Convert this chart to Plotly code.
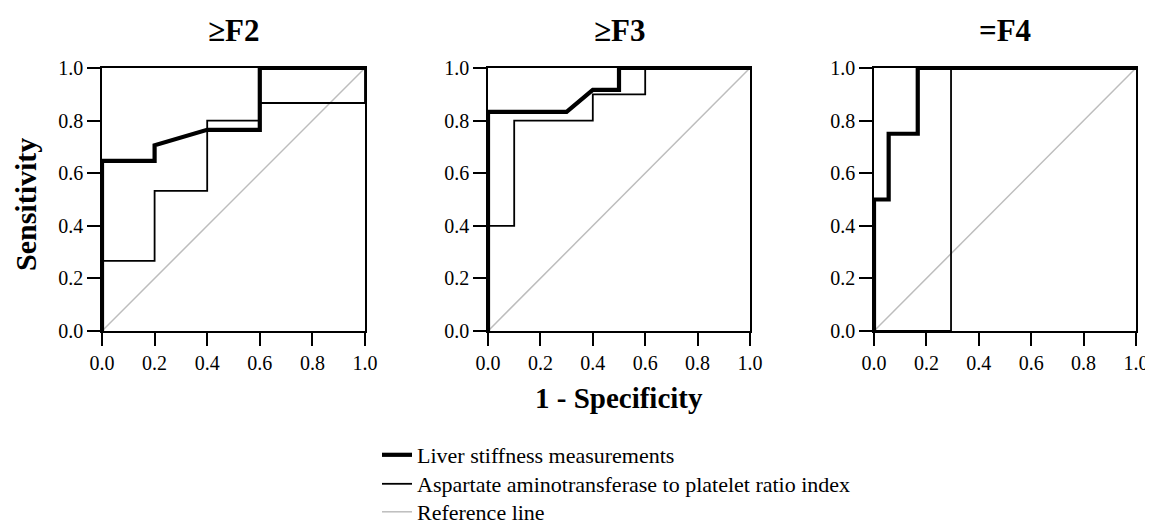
import plotly.graph_objects as go

panel_titles = ["<b>≥F2</b>", "<b>≥F3</b>", "<b>=F4</b>"]
series_names = ["Liver stiffness measurements",
                "Aspartate aminotransferase to platelet ratio index",
                "Reference line"]
tick_vals = [0, 0.2, 0.4, 0.6, 0.8, 1.0]
tick_text = ["0.0", "0.2", "0.4", "0.6", "0.8", "1.0"]

lsm_x_f2 = [0, 0, 0.2, 0.2, 0.4, 0.6, 0.6, 1]
lsm_y_f2 = [0, 0.647, 0.647, 0.706, 0.765, 0.765, 1, 1]
apri_x_f2 = [0, 0, 0.2, 0.2, 0.4, 0.4, 0.6, 0.6, 1, 1]
apri_y_f2 = [0, 0.267, 0.267, 0.533, 0.533, 0.8, 0.8, 0.867, 0.867, 1]

lsm_x_f3 = [0, 0, 0.3, 0.4, 0.5, 0.5, 1]
lsm_y_f3 = [0, 0.833, 0.833, 0.917, 0.917, 1, 1]
apri_x_f3 = [0, 0, 0.1, 0.1, 0.4, 0.4, 0.6, 0.6, 1]
apri_y_f3 = [0, 0.4, 0.4, 0.8, 0.8, 0.9, 0.9, 1, 1]

lsm_x_f4 = [0, 0, 0.056, 0.056, 0.167, 0.167, 1]
lsm_y_f4 = [0, 0.5, 0.5, 0.75, 0.75, 1, 1]
apri_x_f4 = [0, 0.294, 0.294, 1]
apri_y_f4 = [0, 0, 1, 1]

ref_x = [0, 1]
ref_y = [0, 1]

panels = [
    (lsm_x_f2, lsm_y_f2, apri_x_f2, apri_y_f2),
    (lsm_x_f3, lsm_y_f3, apri_x_f3, apri_y_f3),
    (lsm_x_f4, lsm_y_f4, apri_x_f4, apri_y_f4),
]

OFF = 8  # page body margin
W, H = 1153 - OFF, 532 - OFF


def px(xp):
    return (xp - OFF) / W


def py(yp):
    return 1 - (yp - OFF) / H


x_domains = [(102, 365), (488, 750), (874, 1136)]
y_dom = [py(331), py(68)]

FONT = "Liberation Serif, Times New Roman, serif"
fig = go.Figure()

for i, (lx, ly, ax_, ay) in enumerate(panels):
    xa = "x" if i == 0 else f"x{i+1}"
    ya = "y" if i == 0 else f"y{i+1}"
    show = i == 0
    fig.add_trace(go.Scatter(x=ref_x, y=ref_y, mode="lines", xaxis=xa, yaxis=ya,
                             line=dict(color="#bdbdbd", width=1.5),
                             name=series_names[2], showlegend=show,
                             legend="legend3", cliponaxis=False))
    fig.add_trace(go.Scatter(x=ax_, y=ay, mode="lines", xaxis=xa, yaxis=ya,
                             line=dict(color="black", width=1.8),
                             name=series_names[1], showlegend=show,
                             legend="legend2", cliponaxis=False))
    fig.add_trace(go.Scatter(x=lx, y=ly, mode="lines", xaxis=xa, yaxis=ya,
                             line=dict(color="black", width=4.2),
                             name=series_names[0], showlegend=show,
                             legend="legend", cliponaxis=False))

    axis_common = dict(range=[0, 1], showline=True, mirror=True, linecolor="black",
                       linewidth=1.5, ticks="outside", ticklen=13, tickwidth=1.5,
                       tickcolor="black", tickvals=tick_vals, ticktext=tick_text,
                       showgrid=False, zeroline=False, automargin=False,
                       ticklabeloverflow="allow",
                       tickfont=dict(family=FONT, size=20, color="black"))
    d = x_domains[i]
    fig.layout[("xaxis" if i == 0 else f"xaxis{i+1}")] = dict(
        domain=[px(d[0]), px(d[1])], anchor=ya, **axis_common)
    fig.layout[("yaxis" if i == 0 else f"yaxis{i+1}")] = dict(
        domain=y_dom, anchor=xa, **axis_common)

    fig.add_annotation(text=panel_titles[i], xref="paper", yref="paper",
                       x=px((d[0] + d[1]) / 2), y=py(31), showarrow=False,
                       xanchor="center", yanchor="middle",
                       font=dict(family=FONT, size=31, color="black"))

fig.add_annotation(text="<b>1 - Specificity</b>", xref="paper", yref="paper",
                   x=px((x_domains[1][0] + x_domains[1][1]) / 2), y=py(398),
                   showarrow=False, xanchor="center", yanchor="middle",
                   font=dict(family=FONT, size=29, color="black"))
fig.add_annotation(text="<b>Sensitivity</b>", xref="paper", yref="paper",
                   x=px(26), y=py(205), showarrow=False, textangle=-90,
                   xanchor="center", yanchor="middle",
                   font=dict(family=FONT, size=30, color="black"))

leg_common = dict(x=px(377), xanchor="left", yanchor="middle", orientation="v",
                  itemwidth=30, font=dict(family=FONT, size=22, color="black"),
                  bgcolor="rgba(0,0,0,0)")
fig.update_layout(
    template="none",
    width=W, height=H,
    margin=dict(l=0, r=0, t=0, b=0, autoexpand=False),
    paper_bgcolor="white", plot_bgcolor="white",
    showlegend=True,
    legend=dict(y=py(455), **leg_common),
    legend2=dict(y=py(484), **leg_common),
    legend3=dict(y=py(512), **leg_common),
)

fig.write_html("out.html",
               post_script="document.documentElement.style.overflow='hidden';"
                           "document.body.style.overflow='hidden';")
